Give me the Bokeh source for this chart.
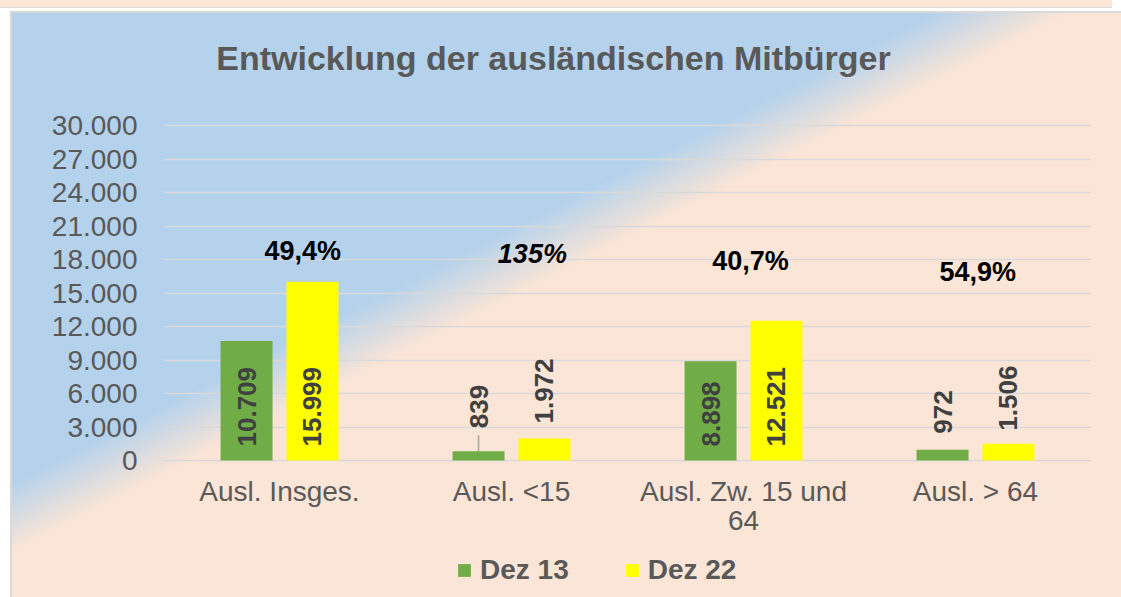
from math import pi
from bokeh.plotting import figure
from bokeh.models import (FactorRange, Range1d, FixedTicker, ColumnDataSource, Legend,
                          LegendItem, InlineStyleSheet, Label)
from bokeh.transform import dodge
from bokeh.core.properties import value
from bokeh.embed import file_html
from bokeh.resources import INLINE

# ---------------- data ----------------
title_text = "Entwicklung der ausländischen Mitbürger"
categories = ["Ausl. Insges.", "Ausl. <15", "Ausl. Zw. 15 und 64", "Ausl. > 64"]
category_wrapped = {"Ausl. Zw. 15 und 64": "Ausl. Zw. 15 und\n64"}
series_names = ["Dez 13", "Dez 22"]
dez13 = [10709, 839, 8898, 972]
dez22 = [15999, 1972, 12521, 1506]
dez13_labels = ["10.709", "839", "8.898", "972"]
dez22_labels = ["15.999", "1.972", "12.521", "1.506"]
pct_labels = ["49,4%", "135%", "40,7%", "54,9%"]
pct_styles = ["bold", "bold italic", "bold", "bold"]
y_ticks = [0, 3000, 6000, 9000, 12000, 15000, 18000, 21000, 24000, 27000, 30000]
y_tick_labels = ["0", "3.000", "6.000", "9.000", "12.000", "15.000", "18.000",
                 "21.000", "24.000", "27.000", "30.000"]

# ---------------- layout / style ----------------
W, H = 1121, 597
B_LEFT, B_RIGHT = 163, 30
PLOT_TOP_PX, PLOT_ZERO_PX = 125, 460     # pixel rows of 30.000 and 0
Y_MAX = 30000
PX_PER_UNIT = (PLOT_ZERO_PX - PLOT_TOP_PX) / Y_MAX
Y_LO = -(H - PLOT_ZERO_PX) / PX_PER_UNIT
Y_HI = PLOT_ZERO_PX / PX_PER_UNIT
BAR_OFF = 0.142
BAR_W = 0.224
GREEN = "#70ad47"
YELLOW = "#ffff00"
TXT = "#595959"
LBL = "#404040"
FONT = "Liberation Sans"
gap13 = [14, 23, 14, 16]     # label gap above bar (px) when outside
gap22 = [14, 15, 14, 13]
leader13 = [0, 16, 0, 0]     # leader line length (px)
pct_dx = [0.10, 0.09, 0.03, 0.01]
pct_y = [18800, 18450, 17900, 16840]

factors = [category_wrapped.get(c, c) for c in categories]

p = figure(x_range=FactorRange(*factors), y_range=Range1d(Y_LO, Y_HI),
           width=W, height=H, output_backend="svg", toolbar_location=None,
           min_border_left=B_LEFT, min_border_right=B_RIGHT,
           min_border_top=0, min_border_bottom=0)
p.x_range.range_padding = 0
p.background_fill_color = None
p.border_fill_color = None
p.outline_line_color = None
p.stylesheets = [InlineStyleSheet(css=(
    ":host { background:"
    " linear-gradient(#fbe5d6,#fbe5d6) 0 0 / 1112px 7px no-repeat,"
    " linear-gradient(#d9d9d9,#d9d9d9) 0 7px / 1112px 1px no-repeat,"
    " linear-gradient(#ffffff,#ffffff) 0 0 / 100% 11px no-repeat,"
    " linear-gradient(#ffffff,#ffffff) 0 0 / 10px 100% no-repeat,"
    " linear-gradient(#d9d9d9,#d9d9d9) 10px 11px / 100% 2px no-repeat,"
    " linear-gradient(#d9d9d9,#d9d9d9) 10px 11px / 2px 100% no-repeat,"
    " linear-gradient(153deg, #b5d2ec 0%, #b5d2ec 41.9%, #fbe5d6 47.8%, #fbe5d6 100%); }"))]

src = ColumnDataSource(dict(cat=factors, d13=dez13, d22=dez22))
r13 = p.vbar(x=dodge("cat", -BAR_OFF, range=p.x_range), top="d13", width=BAR_W,
             source=src, fill_color=GREEN, line_color=None)
r22 = p.vbar(x=dodge("cat", BAR_OFF, range=p.x_range), top="d22", width=BAR_W,
             source=src, fill_color=YELLOW, line_color=None)


def label_source(vals, texts, gaps):
    ys, offs = [], []
    for v, g in zip(vals, gaps):
        if v * PX_PER_UNIT > 60:      # inside base
            ys.append(0)
            offs.append(-14)
        else:                          # outside end
            ys.append(v)
            offs.append(-g)
    return ColumnDataSource(dict(cat=factors, y=ys, off=offs, text=texts))


for vals, texts, gaps, off in ((dez13, dez13_labels, gap13, -BAR_OFF),
                               (dez22, dez22_labels, gap22, BAR_OFF)):
    s = label_source(vals, texts, gaps)
    p.text(x=dodge("cat", off, range=p.x_range), y="y", y_offset="off", text="text",
           source=s, angle=pi / 2, text_align="left", text_baseline="middle",
           text_font=value(FONT), text_font_size="26px", text_font_style="bold",
           text_color=LBL)

# leader lines
ld_src = ColumnDataSource(dict(
    cat=[c for c, l in zip(factors, leader13) if l],
    y0=[v for v, l in zip(dez13, leader13) if l],
    y1=[v + l / PX_PER_UNIT for v, l in zip(dez13, leader13) if l]))
p.segment(x0=dodge("cat", -BAR_OFF, range=p.x_range), y0="y0",
          x1=dodge("cat", -BAR_OFF, range=p.x_range), y1="y1", source=ld_src,
          line_color="#a6a6a6", line_width=1.5)

# percentage annotations
pct_src = ColumnDataSource(dict(x=[i + 0.5 + d for i, d in enumerate(pct_dx)],
                                y=pct_y, text=pct_labels, style=pct_styles))
p.text(x="x", y="y", text="text", source=pct_src, text_align="center",
       text_baseline="middle", text_font=value(FONT), text_font_size="27px",
       text_font_style="style", text_color="#000000")

# title (inside the frame area, which spans the whole height)
p.add_layout(Label(x=553 - B_LEFT, y=H - 57, x_units="screen", y_units="screen",
                   text=title_text, text_align="center", text_baseline="middle",
                   text_font=FONT, text_font_size="34px", text_font_style="bold",
                   text_color=TXT))

# axes
p.yaxis.ticker = FixedTicker(ticks=y_ticks)
p.yaxis.major_label_overrides = dict(zip(y_ticks, y_tick_labels))
p.ygrid.ticker = FixedTicker(ticks=y_ticks)
p.ygrid.grid_line_color = "#d9d9d9"
p.ygrid.grid_line_width = 1.5
p.xgrid.grid_line_color = None
p.xaxis.fixed_location = 0
for ax in (p.xaxis, p.yaxis):
    ax.axis_line_color = None
    ax.major_tick_line_color = None
    ax.minor_tick_line_color = None
    ax.major_label_text_font = FONT
    ax.major_label_text_font_size = "28px"
    ax.major_label_text_color = TXT
p.yaxis.major_label_standoff = 20
p.xaxis.major_label_standoff = 9
p.xaxis.major_label_text_line_height = 0.95

legend = Legend(items=[LegendItem(label=series_names[0], renderers=[r13]),
                       LegendItem(label=series_names[1], renderers=[r22])],
                orientation="horizontal", location=(456 - B_LEFT, 11),
                glyph_width=16, glyph_height=16, label_standoff=8, spacing=55,
                padding=0, margin=0, border_line_color=None,
                background_fill_alpha=0, label_text_font=FONT,
                label_text_font_size="28px", label_text_font_style="bold",
                label_text_color=TXT)
p.add_layout(legend, "center")

open("out.html", "w").write(file_html(p, INLINE))
